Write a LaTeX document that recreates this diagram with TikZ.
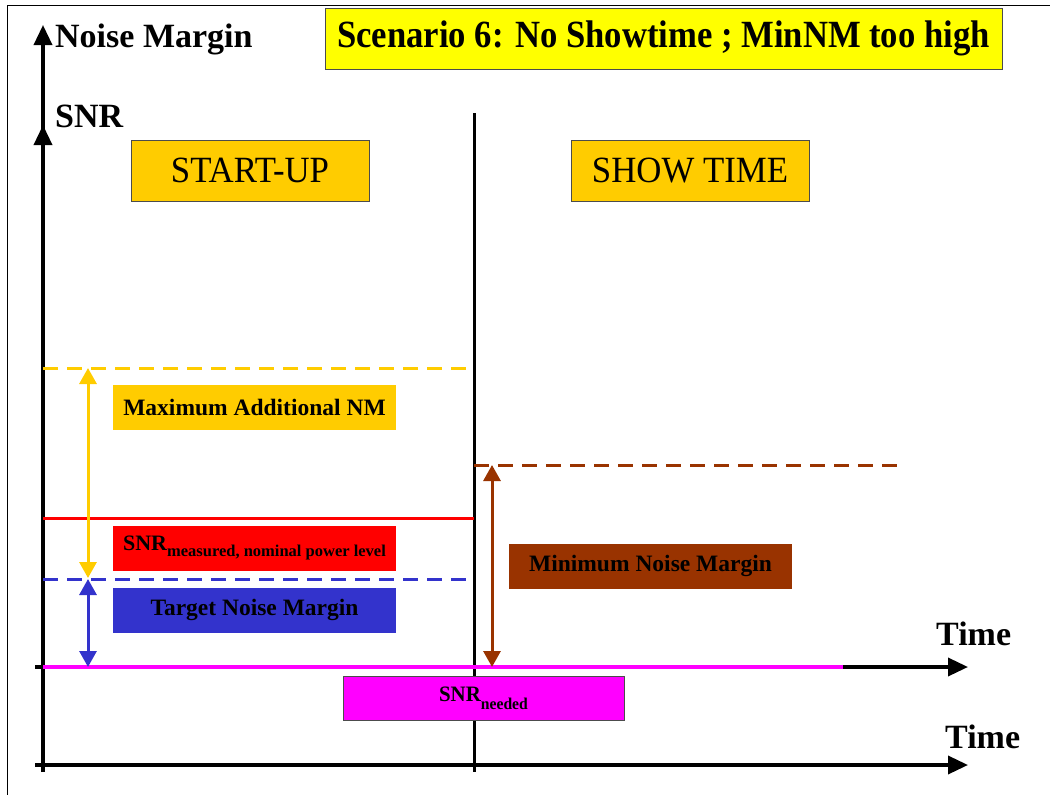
\documentclass[tikz,border=0pt]{standalone}
\usepackage{fontspec}
\setmainfont{Liberation Serif}
\usetikzlibrary{arrows.meta}
\definecolor{gold}{HTML}{FFCC00}
\definecolor{titleyellow}{HTML}{FFFF00}
\definecolor{snrred}{HTML}{FF0000}
\definecolor{tblue}{HTML}{3333CC}
\definecolor{rust}{HTML}{993300}
\definecolor{pink2}{HTML}{FF00FF}
\begin{document}
\begin{tikzpicture}[x=1pt,y=-1pt,
 axis/.style={line width=3.5pt, -{Triangle[length=20pt,width=18pt]}},
 lvl/.style={line width=3pt},
 dsh/.style={line width=3pt, dash pattern=on 15pt off 9pt},
 dbl/.style={line width=3pt, {Triangle[length=16pt,width=17pt]}-{Triangle[length=16pt,width=17pt]}},
 lbl/.style={inner sep=0pt, minimum width=283, minimum height=45, font=\fontsize{23.5}{26}\selectfont\bfseries},
 axlbl/.style={inner sep=0pt, anchor=base west, font=\fontsize{34}{38}\selectfont\bfseries},
 phase/.style={draw=black!70, line width=1pt, fill=gold, minimum width=238, minimum height=61, inner sep=0pt, font=\fontsize{37}{40}\selectfont}
]
\useasboundingbox (0,0) rectangle (1050,795);
% frame
\coordinate (fbl) at (7,795);
\coordinate (ftl) at (7,5);
\coordinate (ftr) at (1050,5);
\draw[line width=1pt] (fbl) -- (ftl) -- (ftr);

% title
\node[draw=black!70, line width=1pt, fill=titleyellow, minimum width=677, minimum height=61, inner sep=0pt,
  font=\fontsize{38.5}{40}\selectfont\bfseries] (title) at (663.5,38.5) {\scalebox{0.9}[1]{Scenario 6: No Showtime ; MinNM too high}};

% axes coordinates
\coordinate (vbot) at (43,772);
\coordinate (vtop) at (43,25);
\coordinate (vmidA) at (43,150);
\coordinate (vmidB) at (43,125);
\coordinate (h1l) at (35,765);
\coordinate (h1r) at (968,765);
\coordinate (h2l) at (35,667);
\coordinate (h2r) at (968,667);
\coordinate (divt) at (474,113);
\coordinate (divb) at (474,772);

\draw[axis] (vbot) -- (vtop);
\draw[axis] (vmidA) -- (vmidB);
\draw[axis] (h1l) -- (h1r);
\draw[axis] (h2l) -- (h2r);
\draw[line width=3pt] (divt) -- (divb);

\node[axlbl] (nm) at (55,47) {Noise Margin};
\node[axlbl] (snr) at (55,127) {SNR};
\node[axlbl] (time1) at (936,645) {Time};
\node[axlbl] (time2) at (945,748) {Time};

% phases
\node[phase] (startup) at (250,170.5) {\scalebox{0.94}[1]{START-UP}};
\node[phase] (show) at (690,170.5) {\scalebox{0.94}[1]{SHOW TIME}};

% levels
\coordinate (yl) at (43,368);  \coordinate (yr) at (474,368);
\coordinate (rl) at (43,518);  \coordinate (rr) at (474,518);
\coordinate (bl) at (43,579);  \coordinate (br) at (474,579);
\coordinate (ml) at (43,667);  \coordinate (mr) at (843,667);
\coordinate (nl) at (474,465); \coordinate (nr) at (903,465);

\draw[dsh, gold] (yl) -- (yr);
\draw[lvl, snrred] (rl) -- (rr);
\draw[dsh, tblue] (bl) -- (br);
\draw[line width=3.5pt, pink2] (ml) -- (mr);
\draw[dsh, rust] (nl) -- (nr);

% double arrows
\coordinate (ya) at (88,368); \coordinate (yb) at (88,578);
\coordinate (ba) at (88,579); \coordinate (bb) at (88,667);
\coordinate (na) at (492,465); \coordinate (nb) at (492,667);
\draw[dbl, gold] (ya) -- (yb);
\draw[dbl, tblue] (ba) -- (bb);
\draw[dbl, rust] (na) -- (nb);

% labels
\node[lbl, fill=gold] (maxnm) at (254.5,407.5) {\raisebox{-2pt}{Maximum Additional NM}};
\node[lbl, fill=snrred] (snrm) at (254.5,548) {\fontsize{22}{24}\selectfont SNR\raisebox{-0.3em}{\fontsize{16.5}{18}\selectfont\bfseries measured, nominal power level}};
\node[lbl, fill=tblue] (tnm) at (254.5,610) {\raisebox{-2pt}{Target Noise Margin}};
\node[lbl, fill=rust] (minnm) at (650.5,566) {\raisebox{-2pt}{Minimum Noise Margin}};
\node[draw=black!70, line width=1pt, fill=pink2, minimum width=281, minimum height=44, inner sep=0pt,
  font=\fontsize{22}{24}\selectfont\bfseries] (snrn) at (483.5,698) {\scalebox{0.95}[1]{SNR\raisebox{-0.35em}{\fontsize{16.5}{18}\selectfont\bfseries needed}}};
\end{tikzpicture}
\end{document}
